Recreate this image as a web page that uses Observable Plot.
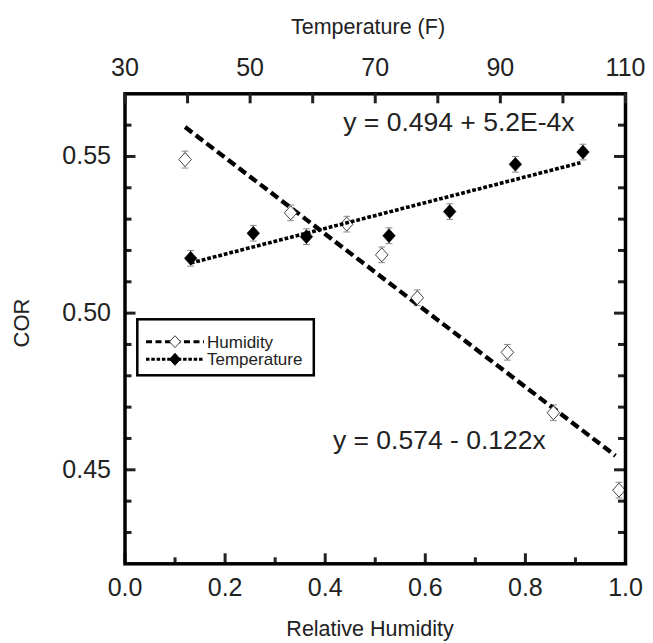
<!DOCTYPE html>
<html><head><meta charset="utf-8">
<script src="https://cdn.jsdelivr.net/npm/d3@7"></script>
<script src="https://cdn.jsdelivr.net/npm/@observablehq/plot@0.6"></script>
<style>
body{margin:0;background:#fff;}
#wrap{position:relative;width:653px;height:643px;font-family:"Liberation Sans",Arial,Helvetica,sans-serif;color:#222;}
#wrap svg{position:absolute;left:0;top:0;}
.t{position:absolute;white-space:nowrap;font-size:21.5px;line-height:1;color:#222;}
</style></head><body><div id="wrap"></div>
<script>
// ---- data ----
const humidityRH  = [0.120, 0.331, 0.443, 0.513, 0.584, 0.764, 0.856, 0.987];
const humidityCOR = [0.5490, 0.5320, 0.5284, 0.5186, 0.5049, 0.4875, 0.4682, 0.4435];
const humidityErr = [0.0027, 0.0025, 0.0025, 0.0025, 0.0025, 0.0025, 0.0025, 0.0025];
const temperatureF   = [40.5, 50.5, 59.0, 72.2, 81.9, 92.4, 103.2];
const temperatureCOR = [0.5175, 0.5255, 0.5244, 0.5247, 0.5324, 0.5475, 0.5514];
const temperatureErr = [0.0025, 0.0025, 0.0025, 0.0025, 0.0025, 0.0025, 0.0025];
const humidityFitRH  = [0.12, 0.98];
const humidityFitCOR = [0.5594, 0.4545];
const temperatureFitF   = [40.5, 102.8];
const temperatureFitCOR = [0.5160, 0.5480];
const rhTicks   = [0, 0.2, 0.4, 0.6, 0.8, 1.0];
const rhMinor   = [0.1, 0.3, 0.5, 0.7, 0.9];
const tempTicks = [30, 50, 70, 90, 110];
const tempMinor = [40, 60, 80, 100];
const corTicks  = [0.45, 0.50, 0.55];
const corMinor  = [0.43, 0.44, 0.46, 0.47, 0.48, 0.49, 0.51, 0.52, 0.53, 0.54, 0.56];
const annotationText = ["y = 0.494 + 5.2E-4x", "y = 0.574 - 0.122x"];
const annotationRH   = [0.667, 0.628];
const annotationCOR  = [0.5608, 0.4593];

// ---- tables ----
const hum = humidityRH.map((x, i) => ({x, y: humidityCOR[i], e: humidityErr[i]}));
const tmp = temperatureF.map((x, i) => ({x, y: temperatureCOR[i], e: temperatureErr[i]}));
const humFit = humidityFitRH.map((x, i) => ({x, y: humidityFitCOR[i]}));
const tmpFit = temperatureFitF.map((x, i) => ({x, y: temperatureFitCOR[i]}));
const notes = annotationText.map((t, i) => ({t, x: annotationRH[i], y: annotationCOR[i]}));

// ---- layout ----
const W = 653, H = 643, mL = 124.5, mR = 28, mT = 93.3, mB = 79.7;
const pw = W - mL - mR, ph = H - mT - mB;
const FONT = '"Liberation Sans", Arial, Helvetica, sans-serif';
const diamond = {draw(ctx, size) { const r = Math.sqrt(size / Math.PI), w = r * 0.9;
  ctx.moveTo(0, -r); ctx.lineTo(w, 0); ctx.lineTo(0, r); ctx.lineTo(-w, 0); ctx.closePath(); }};
const cap = {draw(ctx, size) { const r = Math.sqrt(size / Math.PI); ctx.moveTo(-r, 0); ctx.lineTo(r, 0); }};
const base = {width: W, height: H, marginLeft: mL, marginRight: mR, marginTop: mT, marginBottom: mB,
  style: {fontFamily: FONT, fontSize: "25px", color: "#222", background: "transparent", overflow: "visible"}};
const yScale = {domain: [0.42, 0.57], axis: null, label: null};
const errColor = "#8a8a8a";

const plotA = Plot.plot({...base,
  x: {domain: [0, 1], axis: null, label: null}, y: yScale,
  marks: [
    Plot.ruleX(hum, {x: "x", y1: d => d.y - d.e, y2: d => d.y + d.e, stroke: errColor, strokeWidth: 1}),
    Plot.dot(hum, {x: "x", y: d => d.y + d.e, symbol: cap, r: 3.4, stroke: errColor, strokeWidth: 1}),
    Plot.dot(hum, {x: "x", y: d => d.y - d.e, symbol: cap, r: 3.4, stroke: errColor, strokeWidth: 1}),
    Plot.line(humFit, {x: "x", y: "y", stroke: "#000", strokeWidth: 4.3, strokeDasharray: "9,4.5", strokeLinecap: "butt"}),
    Plot.dot(hum, {x: "x", y: "y", symbol: diamond, r: 7, fill: "#fff", stroke: "#444", strokeWidth: 1}),
    Plot.text(notes, {x: "x", y: "y", text: "t", fontSize: 26.5, fill: "#222", textAnchor: "middle"}),
    Plot.tickY(corTicks, {y: d => d, insetRight: pw - 11, strokeWidth: 3}),
    Plot.tickY(corMinor, {y: d => d, insetRight: pw - 7, strokeWidth: 3}),
    Plot.tickY(corTicks, {y: d => d, insetLeft: pw - 11, strokeWidth: 3}),
    Plot.tickY(corMinor, {y: d => d, insetLeft: pw - 7, strokeWidth: 3}),
    Plot.tickX(rhTicks, {x: d => d, insetTop: ph - 10, strokeWidth: 3}),
    Plot.tickX(rhMinor, {x: d => d, insetTop: ph - 6, strokeWidth: 3}),
    Plot.axisX(rhTicks, {anchor: "bottom", tickSize: 0, tickPadding: 14, tickFormat: d3.format(".1f"), fontSize: 25, label: null}),
    Plot.axisY(corTicks, {anchor: "left", tickSize: 0, tickPadding: 14, tickFormat: d3.format(".2f"), fontSize: 25, label: null}),
    Plot.frame({stroke: "#000", strokeWidth: 3.5})
  ]
});

const plotB = Plot.plot({...base,
  x: {domain: [30, 110], axis: null, label: null}, y: yScale,
  marks: [
    Plot.ruleX(tmp, {x: "x", y1: d => d.y - d.e, y2: d => d.y + d.e, stroke: errColor, strokeWidth: 1}),
    Plot.dot(tmp, {x: "x", y: d => d.y + d.e, symbol: cap, r: 3.4, stroke: errColor, strokeWidth: 1}),
    Plot.dot(tmp, {x: "x", y: d => d.y - d.e, symbol: cap, r: 3.4, stroke: errColor, strokeWidth: 1}),
    Plot.line(tmpFit, {x: "x", y: "y", stroke: "#000", strokeWidth: 3.6, strokeDasharray: "3.8,1.9", strokeLinecap: "butt"}),
    Plot.dot(tmp, {x: "x", y: "y", symbol: diamond, r: 7, fill: "#000", stroke: "#000", strokeWidth: 0.5}),
    Plot.tickX(tempTicks.concat(tempMinor), {x: d => d, insetBottom: ph - 10, strokeWidth: 3}),
    Plot.axisX(tempTicks, {anchor: "top", tickSize: 0, tickPadding: 18, fontSize: 25, label: null})
  ]
});

const wrap = document.getElementById("wrap");
wrap.appendChild(plotA);
wrap.appendChild(plotB);

// titles
function addText(txt, css) { const d = document.createElement("div"); d.className = "t"; d.textContent = txt; Object.assign(d.style, css); wrap.appendChild(d); return d; }
addText("Temperature (F)", {left: "368px", top: "28px", transform: "translate(-50%,-50%)"});
addText("Relative Humidity", {left: "370px", top: "630px", transform: "translate(-50%,-50%)"});
addText("COR", {left: "22px", top: "323px", fontSize: "22px", transform: "translate(-50%,-50%) rotate(-90deg)"});

// legend
const lg = d3.select(wrap).append("svg").attr("width", 180).attr("height", 60)
  .style("left", "136px").style("top", "318px").style("overflow", "visible");
lg.append("rect").attr("x", 1.3).attr("y", 1.3).attr("width", 176.5).attr("height", 56)
  .attr("fill", "#fff").attr("stroke", "#000").attr("stroke-width", 2.5);
const rows = [
  {label: "Humidity", dash: "6,3.5", fill: "#fff", stroke: "#444", y: 23.7},
  {label: "Temperature", dash: "3.5,1.8", fill: "#000", stroke: "#000", y: 41.3}
];
rows.forEach(r => {
  lg.append("line").attr("x1", 10).attr("x2", 68).attr("y1", r.y).attr("y2", r.y)
    .attr("stroke", "#000").attr("stroke-width", 3).attr("stroke-dasharray", r.dash);
  lg.append("path").attr("d", d3.symbol(diamond, Math.PI * 36)()).attr("transform", `translate(39,${r.y})`)
    .attr("fill", r.fill).attr("stroke", r.stroke).attr("stroke-width", 1);
  lg.append("text").attr("x", 71).attr("y", r.y).attr("dy", "0.35em").attr("font-size", 17)
    .attr("font-family", FONT).attr("fill", "#222").text(r.label);
});
</script></body></html>
